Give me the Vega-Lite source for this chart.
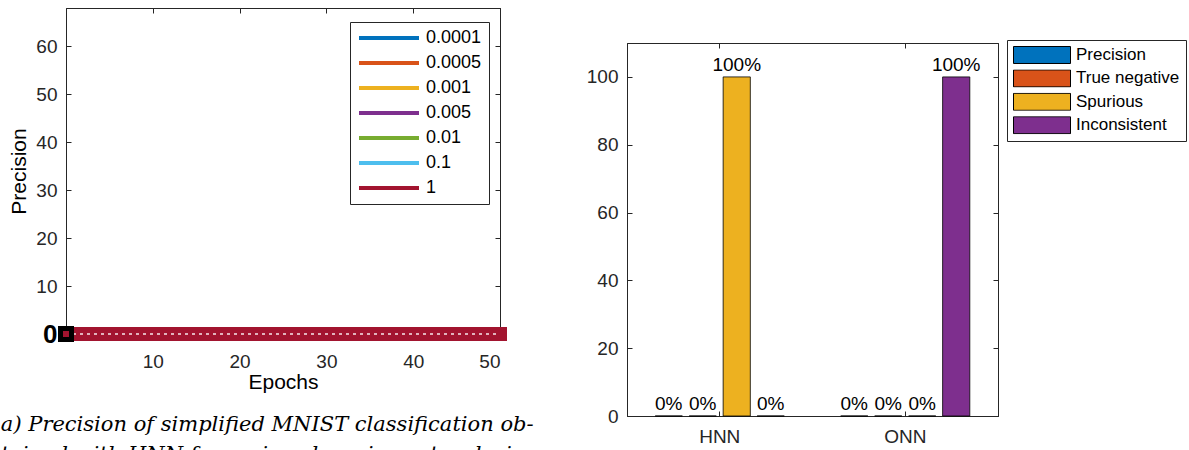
{
  "$schema": "https://vega.github.io/schema/vega-lite/v6.json",
  "padding": {"left": 0, "top": 7, "right": 0, "bottom": 0},
  "spacing": 45,
  "resolve": {"scale": {"color": "independent"}, "legend": {"color": "independent"}},
  "config": {
    "font": "Liberation Sans",
    "view": {"stroke": "#262626", "strokeWidth": 1},
    "axis": {
      "grid": false,
      "domainColor": "#262626",
      "tickColor": "#262626",
      "labelColor": "#262626",
      "titleColor": "#000000",
      "labelFontSize": 19,
      "titleFontSize": 21,
      "titleFontWeight": "normal",
      "tickSize": -5
    },
    "legend": {"strokeColor": "#262626", "fillColor": "white", "labelColor": "#000000", "title": null}
  },
  "hconcat": [
    {
      "width": 434,
      "height": 326,
      "title": {
        "text": ["a) Precision of simplified MNIST classification ob-", "tained with HNN for various learning rates during"],
        "orient": "bottom",
        "anchor": "start",
        "frame": "bounds",
        "font": "DejaVu Serif",
        "fontStyle": "italic",
        "fontWeight": "normal",
        "fontSize": 21,
        "lineHeight": 30,
        "offset": 22,
        "dx": -8,
        "color": "#000000"
      },
      "data": {"values": [
        {"epoch":0,"1e-4":0,"5e-4":0,"1e-3":0,"5e-3":0,"1e-2":0,"1e-1":0,"1":0},
        {"epoch":1,"1e-4":0,"5e-4":0,"1e-3":0,"5e-3":0,"1e-2":0,"1e-1":0,"1":0},
        {"epoch":2,"1e-4":0,"5e-4":0,"1e-3":0,"5e-3":0,"1e-2":0,"1e-1":0,"1":0},
        {"epoch":3,"1e-4":0,"5e-4":0,"1e-3":0,"5e-3":0,"1e-2":0,"1e-1":0,"1":0},
        {"epoch":4,"1e-4":0,"5e-4":0,"1e-3":0,"5e-3":0,"1e-2":0,"1e-1":0,"1":0},
        {"epoch":5,"1e-4":0,"5e-4":0,"1e-3":0,"5e-3":0,"1e-2":0,"1e-1":0,"1":0},
        {"epoch":6,"1e-4":0,"5e-4":0,"1e-3":0,"5e-3":0,"1e-2":0,"1e-1":0,"1":0},
        {"epoch":7,"1e-4":0,"5e-4":0,"1e-3":0,"5e-3":0,"1e-2":0,"1e-1":0,"1":0},
        {"epoch":8,"1e-4":0,"5e-4":0,"1e-3":0,"5e-3":0,"1e-2":0,"1e-1":0,"1":0},
        {"epoch":9,"1e-4":0,"5e-4":0,"1e-3":0,"5e-3":0,"1e-2":0,"1e-1":0,"1":0},
        {"epoch":10,"1e-4":0,"5e-4":0,"1e-3":0,"5e-3":0,"1e-2":0,"1e-1":0,"1":0},
        {"epoch":11,"1e-4":0,"5e-4":0,"1e-3":0,"5e-3":0,"1e-2":0,"1e-1":0,"1":0},
        {"epoch":12,"1e-4":0,"5e-4":0,"1e-3":0,"5e-3":0,"1e-2":0,"1e-1":0,"1":0},
        {"epoch":13,"1e-4":0,"5e-4":0,"1e-3":0,"5e-3":0,"1e-2":0,"1e-1":0,"1":0},
        {"epoch":14,"1e-4":0,"5e-4":0,"1e-3":0,"5e-3":0,"1e-2":0,"1e-1":0,"1":0},
        {"epoch":15,"1e-4":0,"5e-4":0,"1e-3":0,"5e-3":0,"1e-2":0,"1e-1":0,"1":0},
        {"epoch":16,"1e-4":0,"5e-4":0,"1e-3":0,"5e-3":0,"1e-2":0,"1e-1":0,"1":0},
        {"epoch":17,"1e-4":0,"5e-4":0,"1e-3":0,"5e-3":0,"1e-2":0,"1e-1":0,"1":0},
        {"epoch":18,"1e-4":0,"5e-4":0,"1e-3":0,"5e-3":0,"1e-2":0,"1e-1":0,"1":0},
        {"epoch":19,"1e-4":0,"5e-4":0,"1e-3":0,"5e-3":0,"1e-2":0,"1e-1":0,"1":0},
        {"epoch":20,"1e-4":0,"5e-4":0,"1e-3":0,"5e-3":0,"1e-2":0,"1e-1":0,"1":0},
        {"epoch":21,"1e-4":0,"5e-4":0,"1e-3":0,"5e-3":0,"1e-2":0,"1e-1":0,"1":0},
        {"epoch":22,"1e-4":0,"5e-4":0,"1e-3":0,"5e-3":0,"1e-2":0,"1e-1":0,"1":0},
        {"epoch":23,"1e-4":0,"5e-4":0,"1e-3":0,"5e-3":0,"1e-2":0,"1e-1":0,"1":0},
        {"epoch":24,"1e-4":0,"5e-4":0,"1e-3":0,"5e-3":0,"1e-2":0,"1e-1":0,"1":0},
        {"epoch":25,"1e-4":0,"5e-4":0,"1e-3":0,"5e-3":0,"1e-2":0,"1e-1":0,"1":0},
        {"epoch":26,"1e-4":0,"5e-4":0,"1e-3":0,"5e-3":0,"1e-2":0,"1e-1":0,"1":0},
        {"epoch":27,"1e-4":0,"5e-4":0,"1e-3":0,"5e-3":0,"1e-2":0,"1e-1":0,"1":0},
        {"epoch":28,"1e-4":0,"5e-4":0,"1e-3":0,"5e-3":0,"1e-2":0,"1e-1":0,"1":0},
        {"epoch":29,"1e-4":0,"5e-4":0,"1e-3":0,"5e-3":0,"1e-2":0,"1e-1":0,"1":0},
        {"epoch":30,"1e-4":0,"5e-4":0,"1e-3":0,"5e-3":0,"1e-2":0,"1e-1":0,"1":0},
        {"epoch":31,"1e-4":0,"5e-4":0,"1e-3":0,"5e-3":0,"1e-2":0,"1e-1":0,"1":0},
        {"epoch":32,"1e-4":0,"5e-4":0,"1e-3":0,"5e-3":0,"1e-2":0,"1e-1":0,"1":0},
        {"epoch":33,"1e-4":0,"5e-4":0,"1e-3":0,"5e-3":0,"1e-2":0,"1e-1":0,"1":0},
        {"epoch":34,"1e-4":0,"5e-4":0,"1e-3":0,"5e-3":0,"1e-2":0,"1e-1":0,"1":0},
        {"epoch":35,"1e-4":0,"5e-4":0,"1e-3":0,"5e-3":0,"1e-2":0,"1e-1":0,"1":0},
        {"epoch":36,"1e-4":0,"5e-4":0,"1e-3":0,"5e-3":0,"1e-2":0,"1e-1":0,"1":0},
        {"epoch":37,"1e-4":0,"5e-4":0,"1e-3":0,"5e-3":0,"1e-2":0,"1e-1":0,"1":0},
        {"epoch":38,"1e-4":0,"5e-4":0,"1e-3":0,"5e-3":0,"1e-2":0,"1e-1":0,"1":0},
        {"epoch":39,"1e-4":0,"5e-4":0,"1e-3":0,"5e-3":0,"1e-2":0,"1e-1":0,"1":0},
        {"epoch":40,"1e-4":0,"5e-4":0,"1e-3":0,"5e-3":0,"1e-2":0,"1e-1":0,"1":0},
        {"epoch":41,"1e-4":0,"5e-4":0,"1e-3":0,"5e-3":0,"1e-2":0,"1e-1":0,"1":0},
        {"epoch":42,"1e-4":0,"5e-4":0,"1e-3":0,"5e-3":0,"1e-2":0,"1e-1":0,"1":0},
        {"epoch":43,"1e-4":0,"5e-4":0,"1e-3":0,"5e-3":0,"1e-2":0,"1e-1":0,"1":0},
        {"epoch":44,"1e-4":0,"5e-4":0,"1e-3":0,"5e-3":0,"1e-2":0,"1e-1":0,"1":0},
        {"epoch":45,"1e-4":0,"5e-4":0,"1e-3":0,"5e-3":0,"1e-2":0,"1e-1":0,"1":0},
        {"epoch":46,"1e-4":0,"5e-4":0,"1e-3":0,"5e-3":0,"1e-2":0,"1e-1":0,"1":0},
        {"epoch":47,"1e-4":0,"5e-4":0,"1e-3":0,"5e-3":0,"1e-2":0,"1e-1":0,"1":0},
        {"epoch":48,"1e-4":0,"5e-4":0,"1e-3":0,"5e-3":0,"1e-2":0,"1e-1":0,"1":0},
        {"epoch":49,"1e-4":0,"5e-4":0,"1e-3":0,"5e-3":0,"1e-2":0,"1e-1":0,"1":0},
        {"epoch":50,"1e-4":0,"5e-4":0,"1e-3":0,"5e-3":0,"1e-2":0,"1e-1":0,"1":0}
      ]},
      "transform": [{"fold": ["1e-4", "5e-4", "1e-3", "5e-3", "1e-2", "1e-1", "1"], "as": ["lr", "precision"]}],
      "layer": [
        {
          "mark": {"type": "line", "strokeWidth": 3},
          "encoding": {
            "x": {"field": "epoch", "type": "quantitative", "scale": {"domain": [0, 50], "nice": false},
                  "axis": {"values": [10, 20, 30, 40, 50], "title": "Epochs", "labelPadding": 23, "titlePadding": 0}},
            "y": {"field": "precision", "type": "quantitative", "scale": {"domain": [0, 68], "nice": false},
                  "axis": {"values": [0, 10, 20, 30, 40, 50, 60], "title": "Precision", "labelPadding": 14, "titlePadding": 6,
                           "labelFontSize": {"condition": {"test": "datum.value == 0", "value": 26}, "value": 19},
                           "labelFontWeight": {"condition": {"test": "datum.value == 0", "value": "bold"}, "value": "normal"},
                           "labelColor": {"condition": {"test": "datum.value == 0", "value": "#000000"}, "value": "#262626"}}},
            "color": {"field": "lr", "type": "nominal",
                      "scale": {"domain": ["1e-4", "5e-4", "1e-3", "5e-3", "1e-2", "1e-1", "1"],
                                "range": ["#0072BD", "#D95319", "#EDB120", "#7E2F8E", "#77AC30", "#4DBEEE", "#A2142F"]},
                      "legend": {"orient": "none", "legendX": 284, "legendY": 14, "symbolType": "stroke", "symbolSize": 3600,
                                 "symbolStrokeWidth": 4, "clipHeight": 18, "rowPadding": 7, "labelFontSize": 18, "labelOffset": 5,
                                 "padding": 7, "symbolOffset": 0, "labelExpr": "'' + toNumber(datum.label)"}}
          }
        },
        {
          "transform": [{"filter": "datum.lr == '1'"}],
          "mark": {"type": "line", "strokeWidth": 14, "strokeCap": "square", "color": "#A2142F"},
          "encoding": {
            "x": {"field": "epoch", "type": "quantitative", "axis": {"orient": "top", "values": [10, 20, 30, 40, 50], "labels": false, "title": null}},
            "y": {"field": "precision", "type": "quantitative", "axis": {"orient": "right", "values": [0, 10, 20, 30, 40, 50, 60], "labels": false, "title": null}}
          }
        },
        {
          "transform": [{"filter": "datum.lr == '1'"}],
          "mark": {"type": "line", "strokeWidth": 1.5, "strokeDash": [3, 4], "color": "#ffffff", "opacity": 0.9},
          "encoding": {
            "x": {"field": "epoch", "type": "quantitative", "axis": null},
            "y": {"field": "precision", "type": "quantitative", "axis": null}
          }
        },
        {
          "transform": [{"filter": "datum.lr == '1' && datum.epoch == 0"}],
          "mark": {"type": "point", "shape": "square", "size": 121, "filled": true, "fill": "#A2142F", "stroke": "#000000", "strokeWidth": 5, "opacity": 1},
          "encoding": {
            "x": {"field": "epoch", "type": "quantitative", "axis": null},
            "y": {"field": "precision", "type": "quantitative", "axis": null}
          }
        }
      ],
      "resolve": {"axis": {"x": "independent", "y": "independent"}}
    },
    {
      "spacing": 20,
      "vconcat": [
        {
          "width": 371,
          "height": 14,
          "view": {"stroke": null},
          "data": {"values": []},
          "mark": "point",
          "encoding": {}
        },
        {
          "width": 371,
          "height": 373,
          "data": {"values": [
            {"model": "HNN", "metric": "Precision", "value": 0},
            {"model": "HNN", "metric": "True negative", "value": 0},
            {"model": "HNN", "metric": "Spurious", "value": 100},
            {"model": "HNN", "metric": "Inconsistent", "value": 0},
            {"model": "ONN", "metric": "Precision", "value": 0},
            {"model": "ONN", "metric": "True negative", "value": 0},
            {"model": "ONN", "metric": "Spurious", "value": 0},
            {"model": "ONN", "metric": "Inconsistent", "value": 100}
          ]},
          "transform": [{"calculate": "datum.value + '%'", "as": "label"}],
          "layer": [
            {
              "mark": {"type": "bar", "stroke": "#000000", "strokeWidth": 0.8},
              "encoding": {
                "x": {"field": "model", "type": "nominal", "scale": {"domain": ["HNN", "ONN"], "paddingInner": 0, "paddingOuter": 0},
                      "axis": {"title": null, "labelAngle": 0, "labelPadding": 16}},
                "xOffset": {"field": "metric", "type": "nominal",
                            "scale": {"domain": ["Precision", "True negative", "Spurious", "Inconsistent"], "paddingInner": 0.2, "paddingOuter": 0.83}},
                "y": {"field": "value", "type": "quantitative", "scale": {"domain": [0, 110], "nice": false},
                      "axis": {"values": [0, 20, 40, 60, 80, 100], "title": null, "labelPadding": 14}},
                "color": {"field": "metric", "type": "nominal",
                          "scale": {"domain": ["Precision", "True negative", "Spurious", "Inconsistent"],
                                    "range": ["#0072BD", "#D95319", "#EDB120", "#7E2F8E"]},
                          "legend": {"orient": "none", "legendX": 380, "legendY": 32,
                                     "symbolType": "M-1,-0.298H1V0.298H-1Z", "symbolSize": 3249,
                                     "symbolStrokeColor": "#000000", "symbolStrokeWidth": 1, "clipHeight": 18,
                                     "rowPadding": 5.4, "labelFontSize": 17, "labelOffset": 5, "padding": 6, "symbolOffset": 0}}
              }
            },
            {
              "mark": {"type": "text", "baseline": "bottom", "dy": -2, "fontSize": 19, "color": "#000000"},
              "encoding": {
                "text": {"field": "label"},
                "x": {"field": "model", "type": "nominal", "axis": {"orient": "top", "labels": false, "title": null}},
                "xOffset": {"field": "metric", "type": "nominal"},
                "y": {"field": "value", "type": "quantitative", "axis": {"orient": "right", "values": [0, 20, 40, 60, 80, 100], "labels": false, "title": null}}
              }
            }
          ],
          "resolve": {"axis": {"x": "independent", "y": "independent"}}
        }
      ]
    }
  ]
}
